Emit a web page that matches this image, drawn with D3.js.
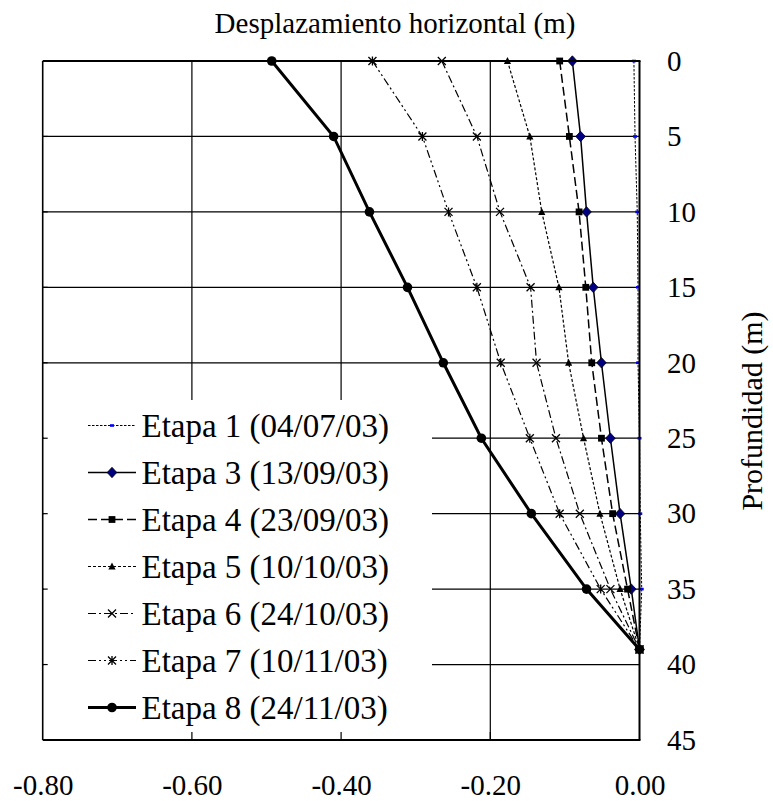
<!DOCTYPE html>
<html>
<head>
<meta charset="utf-8">
<script src="https://cdn.jsdelivr.net/npm/d3@7"></script>
<style>
  html, body { margin: 0; padding: 0; background: #fff; }
  svg { display: block; font-family: "Liberation Serif", "Times New Roman", Times, "DejaVu Serif", serif; }
</style>
</head>
<body>
<svg id="chart" width="773" height="801"></svg>
<script>
// ---------- data ----------
const depths = [0, 5, 10, 15, 20, 25, 30, 35, 39];
const etapa1 = [-0.0075, -0.006, -0.003, -0.002, -0.002, 0.000, 0.001, 0.003, 0];
const etapa3 = [-0.090, -0.079, -0.071, -0.062, -0.051, -0.039, -0.026, -0.011, 0];
const etapa4 = [-0.107, -0.094, -0.081, -0.072, -0.064, -0.051, -0.036, -0.016, 0];
const etapa5 = [-0.177, -0.147, -0.131, -0.108, -0.095, -0.075, -0.053, -0.026, 0];
const etapa6 = [-0.265, -0.218, -0.187, -0.146, -0.138, -0.112, -0.080, -0.039, 0];
const etapa7 = [-0.358, -0.291, -0.256, -0.218, -0.186, -0.147, -0.107, -0.052, 0];
const etapa8 = [-0.493, -0.410, -0.362, -0.311, -0.263, -0.212, -0.145, -0.071, 0];
const seriesNames = ["Etapa 1 (04/07/03)", "Etapa 3 (13/09/03)", "Etapa 4 (23/09/03)",
  "Etapa 5 (10/10/03)", "Etapa 6 (24/10/03)", "Etapa 7 (10/11/03)", "Etapa 8 (24/11/03)"];
const xTicks = [-0.8, -0.6, -0.4, -0.2, 0];
const xTickLabels = ["-0.80", "-0.60", "-0.40", "-0.20", "0.00"];
const yTicks = [0, 5, 10, 15, 20, 25, 30, 35, 40, 45];
const xTitle = "Desplazamiento horizontal (m)";
const yTitle = "Profundidad (m)";

// ---------- styles per series ----------
const styles = [
  {w: 1, dash: "2.5,1.5", marker: "bluebar"},
  {w: 1.5, dash: null, marker: "diamond"},
  {w: 1.5, dash: "9,4", marker: "square"},
  {w: 1.2, dash: "3,2", marker: "triangle"},
  {w: 1.2, dash: "8,3,2,3", marker: "x"},
  {w: 1.2, dash: "8,3,2,3,2,3", marker: "star"},
  {w: 3, dash: null, marker: "circle"}
];
const allValues = [etapa1, etapa3, etapa4, etapa5, etapa6, etapa7, etapa8];
const series = seriesNames.map((name, i) => ({
  name, style: styles[i],
  points: depths.map((d, j) => ({depth: d, v: allValues[i][j]}))
}));

// ---------- scales ----------
const L = 42.7, R = 639.5, T = 61, B = 740;
const x = d3.scaleLinear().domain([-0.8, 0]).range([L, R]);
const y = d3.scaleLinear().domain([0, 45]).range([T, B]);
const FONT = '"Liberation Serif", "Times New Roman", Times, serif';

const svg = d3.select("#chart");

// gridlines
svg.append("g").selectAll("line").data([-0.6, -0.4, -0.2]).join("line")
  .attr("x1", d => x(d)).attr("x2", d => x(d)).attr("y1", T).attr("y2", B)
  .attr("stroke", "#000").attr("stroke-width", 1.2);
svg.append("g").selectAll("line").data([5, 10, 15, 20, 25, 30, 35, 40]).join("line")
  .attr("x1", L).attr("x2", R).attr("y1", d => y(d)).attr("y2", d => y(d))
  .attr("stroke", "#000").attr("stroke-width", 1.2);

// series lines
const line = d3.line().x(d => x(d.v)).y(d => y(d.depth));

function drawMarker(g, type, cx, cy) {
  if (type === "bluebar") {
    g.append("rect").attr("x", cx - 2).attr("y", cy - 1.3).attr("width", 4).attr("height", 2.6).attr("fill", "#0000ff");
  } else if (type === "diamond") {
    g.append("path").attr("d", `M${cx},${cy-5.2}L${cx+4.8},${cy}L${cx},${cy+5.2}L${cx-4.8},${cy}Z`)
      .attr("fill", "#000080").attr("stroke", "#000").attr("stroke-width", 0.8);
  } else if (type === "square") {
    g.append("rect").attr("x", cx - 3.4).attr("y", cy - 3.4).attr("width", 6.8).attr("height", 6.8).attr("fill", "#000");
  } else if (type === "triangle") {
    g.append("path").attr("d", `M${cx},${cy-4}L${cx+3.6},${cy+3}L${cx-3.6},${cy+3}Z`).attr("fill", "#000");
  } else if (type === "x") {
    g.append("path").attr("d", `M${cx-4},${cy-4}L${cx+4},${cy+4}M${cx-4},${cy+4}L${cx+4},${cy-4}`)
      .attr("stroke", "#000").attr("stroke-width", 1.3).attr("fill", "none");
  } else if (type === "star") {
    g.append("path").attr("d", `M${cx-4},${cy-4}L${cx+4},${cy+4}M${cx-4},${cy+4}L${cx+4},${cy-4}M${cx},${cy-4.5}L${cx},${cy+4.5}`)
      .attr("stroke", "#000").attr("stroke-width", 1.3).attr("fill", "none");
  } else if (type === "circle") {
    g.append("circle").attr("cx", cx).attr("cy", cy).attr("r", 4.8).attr("fill", "#000");
  }
}

series.forEach(s => {
  const g = svg.append("g");
  g.append("path").datum(s.points).attr("d", line)
    .attr("fill", "none").attr("stroke", "#000").attr("stroke-width", s.style.w)
    .attr("stroke-dasharray", s.style.dash);
  s.points.forEach(p => drawMarker(g, s.style.marker, x(p.v), y(p.depth)));
});

// legend background
const legX0 = L + 1, legX1 = 432, legY0 = 400;
svg.append("rect").attr("x", legX0).attr("y", legY0).attr("width", legX1 - legX0).attr("height", B - legY0 - 1)
  .attr("fill", "#fff");

// legend items
const legRow0 = 425.5, legStep = 47;
series.forEach((s, i) => {
  const g = svg.append("g");
  const cy = legRow0 + i * legStep;
  g.append("line").attr("x1", 88).attr("x2", 136).attr("y1", cy).attr("y2", cy)
    .attr("stroke", "#000").attr("stroke-width", s.style.w).attr("stroke-dasharray", s.style.dash);
  drawMarker(g, s.style.marker, 112, cy);
  g.append("text").attr("x", 141.5).attr("y", cy + 11.6).attr("font-size", 33)
    .attr("font-family", FONT).attr("fill", "#000").text(s.name);
});

// frame
svg.append("line").attr("x1", L).attr("x2", R + 1).attr("y1", T).attr("y2", T).attr("stroke", "#000").attr("stroke-width", 2);
svg.append("line").attr("x1", L).attr("x2", R + 1).attr("y1", B).attr("y2", B).attr("stroke", "#000").attr("stroke-width", 2);
svg.append("line").attr("x1", L).attr("x2", L).attr("y1", T).attr("y2", B).attr("stroke", "#000").attr("stroke-width", 1.6);
svg.append("line").attr("x1", R).attr("x2", R).attr("y1", T).attr("y2", B).attr("stroke", "#000").attr("stroke-width", 2);

// inner tick marks (visible where legend hides gridlines)
svg.append("g").selectAll("line").data([-0.6, -0.4, -0.2]).join("line")
  .attr("x1", d => x(d)).attr("x2", d => x(d)).attr("y1", B).attr("y2", B - 8)
  .attr("stroke", "#000").attr("stroke-width", 1.2);
svg.append("g").selectAll("line").data([5, 10, 15, 20, 25, 30, 35, 40]).join("line")
  .attr("x1", L).attr("x2", L + 5).attr("y1", d => y(d)).attr("y2", d => y(d))
  .attr("stroke", "#000").attr("stroke-width", 1.2);

// axes labels via d3 axes
const xAxis = d3.axisBottom(x).tickValues(xTicks).tickSize(0).tickPadding(34.4)
  .tickFormat((d, i) => xTickLabels[i]);
const gx = svg.append("g").attr("transform", `translate(0,${B})`).call(xAxis);
gx.select(".domain").remove();
gx.attr("font-family", FONT);
gx.selectAll("text").attr("font-size", 29).attr("font-family", FONT).attr("fill", "#000");

const yAxis = d3.axisRight(y).tickValues(yTicks).tickSize(0).tickPadding(27.5);
const gy = svg.append("g").attr("transform", `translate(${R},0)`).call(yAxis);
gy.select(".domain").remove();
gy.attr("font-family", FONT);
gy.selectAll("text").attr("font-size", 29).attr("font-family", FONT).attr("fill", "#000");

// titles
svg.append("text").attr("x", 395).attr("y", 33).attr("text-anchor", "middle")
  .attr("font-size", 29).attr("font-family", FONT).attr("fill", "#000").text(xTitle);
svg.append("text").attr("transform", "translate(762,411) rotate(-90)").attr("text-anchor", "middle")
  .attr("font-size", 30).attr("font-family", FONT).attr("fill", "#000").text(yTitle);
</script>
</body>
</html>
